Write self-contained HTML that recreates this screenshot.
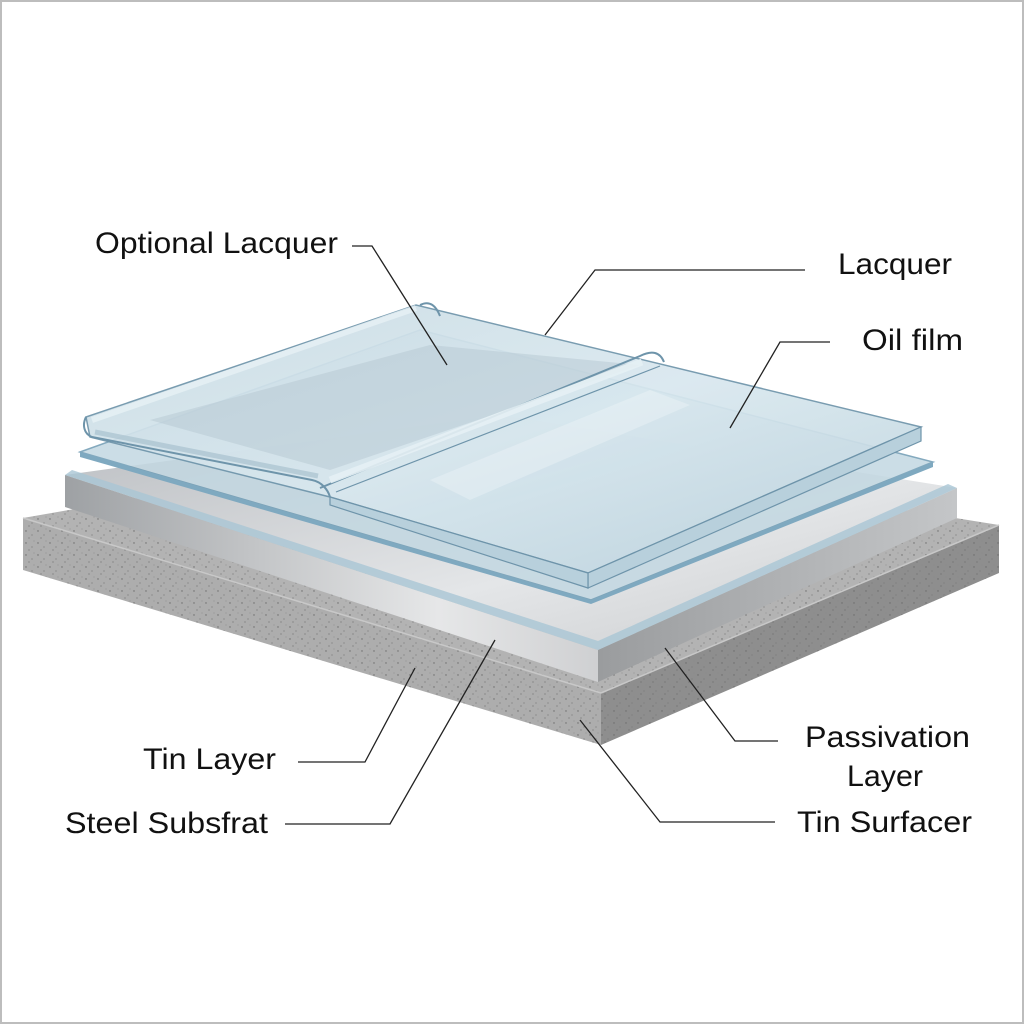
<!DOCTYPE html>
<html><head><meta charset="utf-8"><style>
html,body{margin:0;padding:0;background:#fff}
svg{display:block}
text{font-family:"Liberation Sans",sans-serif;font-size:30px;fill:#111}
</style></head><body>
<svg width="1024" height="1024" viewBox="0 0 1024 1024" xmlns="http://www.w3.org/2000/svg">
<defs>
<pattern id="spk" width="12" height="12" patternUnits="userSpaceOnUse">
<rect width="12" height="12" fill="none"/>
<circle cx="2" cy="3" r="0.7" fill="#6a6a6a"/><circle cx="8" cy="7" r="0.6" fill="#777"/>
<circle cx="5" cy="10" r="0.5" fill="#555"/><circle cx="10" cy="1" r="0.5" fill="#888"/>
</pattern>
<linearGradient id="steelTop" x1="0" y1="0" x2="1" y2="1"><stop offset="0" stop-color="#b9bcc0"/><stop offset="0.6" stop-color="#e4e6e8"/><stop offset="1" stop-color="#c8cacc"/></linearGradient>
<linearGradient id="steelFront" x1="0" y1="0" x2="1" y2="0"><stop offset="0" stop-color="#9ea1a4"/><stop offset="0.7" stop-color="#e6e7e8"/><stop offset="1" stop-color="#cfd0d2"/></linearGradient>
<linearGradient id="steelRight" x1="0" y1="0" x2="1" y2="0"><stop offset="0" stop-color="#9a9c9e"/><stop offset="1" stop-color="#c4c6c8"/></linearGradient>
<linearGradient id="glass" x1="0" y1="0" x2="1" y2="1"><stop offset="0" stop-color="#c9dbe4"/><stop offset="0.5" stop-color="#d9e8ef"/><stop offset="1" stop-color="#bcd2dd"/></linearGradient>
</defs>
<rect x="1" y="1" width="1022" height="1022" fill="#fff" stroke="#bdbdbd" stroke-width="2"/>
<!-- slab -->
<polygon points="23,518 470,440 999,525 601,693" fill="#b3b3b3"/>
<polygon points="23,518 601,693 601,745 23,570" fill="#adadad"/>
<polygon points="601,693 999,525 999,573 601,745" fill="#8e8e8e"/>
<polygon points="23,518 601,693 601,745 23,570" fill="url(#spk)"/>
<polygon points="601,693 999,525 999,573 601,745" fill="url(#spk)"/>
<polygon points="23,518 470,440 999,525 601,693" fill="url(#spk)"/>
<line x1="23" y1="518" x2="601" y2="693" stroke="#c8c8c8" stroke-width="1.5"/>
<line x1="601" y1="693" x2="999" y2="525" stroke="#c8c8c8" stroke-width="1.5"/>
<!-- steel -->
<polygon points="65,475 500,415 957,488 598,650" fill="url(#steelTop)"/>
<polygon points="65,475 598,650 598,682 65,507" fill="url(#steelFront)"/>
<polygon points="598,650 957,488 957,518 598,682" fill="url(#steelRight)"/>
<polygon points="65,475 598,650 957,488 948,484 598,641 72,470" fill="#a9c6d4" opacity="0.8"/>
<!-- lower film -->
<polygon points="80,452 420,330 933,462 591,600" fill="#c3d8e2" opacity="0.85" stroke="#6f9bb3" stroke-width="1.5"/>
<polygon points="80,452 591,600 591,604 80,457" fill="#7fa9c0"/>
<polygon points="591,600 933,462 933,467 591,604" fill="#7fa9c0"/>
<!-- upper lacquer sheet -->
<polygon points="86,417 416,305 921,427 588,573 330,497 90,437" fill="url(#glass)" opacity="0.92" stroke="#6e94aa" stroke-width="1.5"/>
<polygon points="588,573 921,427 921,441 588,588" fill="#b8d0dc" stroke="#6e94aa" stroke-width="1.2"/>
<polygon points="330,497 588,573 588,588 330,505" fill="#b8d0dc" stroke="#6e94aa" stroke-width="1.2"/>
<path d="M86,417 C82,425 84,434 92,437 L312,480 C322,482 328,490 330,497" fill="none" stroke="#6e94aa" stroke-width="2"/>
<path d="M92,420 L416,308" stroke="#e8f2f6" stroke-width="6" opacity="0.8"/>
<path d="M95,432 L318,476" stroke="#a9c2cf" stroke-width="5" opacity="0.7"/>
<polygon points="150,420 430,345 640,365 330,470" fill="#b5c8d2" opacity="0.5"/>
<path d="M320,488 L640,356 C652,350 660,352 664,362" fill="none" stroke="#6e94aa" stroke-width="2"/>
<path d="M330,480 L642,362" stroke="#e6f1f5" stroke-width="7" opacity="0.9"/>
<path d="M336,492 L660,366" stroke="#6e94aa" stroke-width="1.2"/>
<path d="M420,305 C430,300 436,306 440,316" fill="none" stroke="#6e94aa" stroke-width="2"/>
<polygon points="430,480 650,390 690,405 470,500" fill="#fff" opacity="0.25"/>
<!-- leader lines -->
<g stroke="#222" stroke-width="1.3" fill="none">
<polyline points="352,246 372,246 447,365"/>
<polyline points="805,270 595,270 545,335"/>
<polyline points="830,342 780,342 730,428"/>
<polyline points="778,741 735,741 665,648"/>
<polyline points="775,822 660,822 580,720"/>
<polyline points="285,824 390,824 495,640"/>
<polyline points="298,762 365,762 415,668"/>
</g>
<text x="95" y="253" textLength="243" lengthAdjust="spacingAndGlyphs">Optional Lacquer</text>
<text x="838" y="274" textLength="114" lengthAdjust="spacingAndGlyphs">Lacquer</text>
<text x="862" y="350" textLength="101" lengthAdjust="spacingAndGlyphs">Oil film</text>
<text x="805" y="747" textLength="165" lengthAdjust="spacingAndGlyphs">Passivation</text>
<text x="847" y="786" textLength="76" lengthAdjust="spacingAndGlyphs">Layer</text>
<text x="797" y="832" textLength="175" lengthAdjust="spacingAndGlyphs">Tin Surfacer</text>
<text x="143" y="769" textLength="133" lengthAdjust="spacingAndGlyphs">Tin Layer</text>
<text x="65" y="833" textLength="203" lengthAdjust="spacingAndGlyphs">Steel Subsfrat</text>
</svg>
</body></html>
